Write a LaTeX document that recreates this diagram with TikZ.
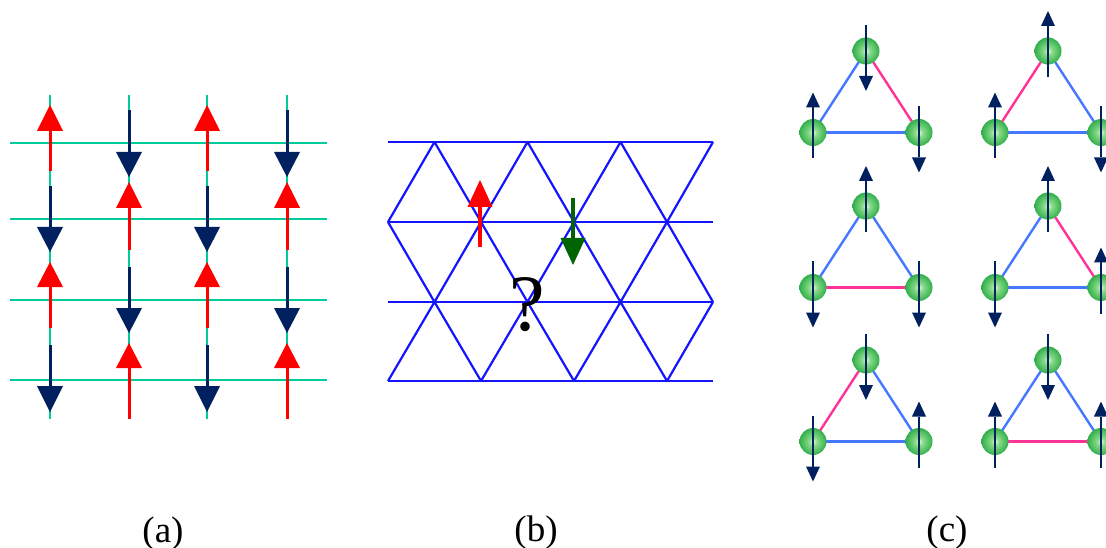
\documentclass[tikz,border=0pt]{standalone}
\usepackage{fontspec}
\setmainfont{Liberation Serif}
\definecolor{tealline}{RGB}{0,204,153}
\definecolor{navy}{RGB}{0,32,96}
\definecolor{latblue}{RGB}{20,20,255}
\definecolor{dgreen}{RGB}{0,100,0}
\definecolor{bondblue}{RGB}{70,120,255}
\definecolor{bondpink}{RGB}{255,50,150}
\definecolor{ballhi}{RGB}{228,250,228}
\definecolor{ballmid}{RGB}{140,220,140}
\definecolor{balledge}{RGB}{50,175,75}
\pgfdeclareradialshading{greenball}{\pgfpoint{0bp}{0bp}}{color(0bp)=(ballhi); color(7bp)=(ballmid); color(25bp)=(balledge); color(50bp)=(balledge)}
% spin arrow: x, tail y, head-base y, apex y, half width, colour, shaft width
\newcommand\spin[7]{%
  \draw[#6, line width=#7] ({#1},{#2}) -- ({#1},{#3});
  \fill[#6] ({#1},{#4}) -- ({#1-#5},{#3}) -- ({#1+#5},{#3}) -- cycle;
}
% spin in panel (c): x, centre y, direction (1 up, -1 down)
\newcommand\cspin[3]{\spin{#1}{#2+26*(#3)}{#2-25*(#3)}{#2-40*(#3)}{7}{navy}{2.6}}
\newcommand\ballat[2]{\shade[shading=greenball] ({#1},{#2}) circle[radius=13.5pt];}
% triangle: top x, top y, bond colours (T-BL, T-BR, BL-BR), spins (T, BL, BR)
\newcommand\tri[8]{%
  \coordinate (T) at ({#1},{#2});
  \coordinate (BL) at ({#1-53},{#2+81.5});
  \coordinate (BR) at ({#1+53},{#2+81.5});
  \draw[bond, #3] (T) -- (BL);
  \draw[bond, #4] (T) -- (BR);
  \draw[bond, #5] (BL) -- (BR);
  \ballat{#1}{#2}\ballat{#1-53}{#2+81.5}\ballat{#1+53}{#2+81.5}
  \cspin{#1}{#2}{#6}\cspin{#1-53}{#2+81.5}{#7}\cspin{#1+53}{#2+81.5}{#8}
}
\tikzset{
  grid/.style={tealline, line width=2.6pt},
  lattice/.style={latblue, line width=2.2pt, line join=round},
  bond/.style={line width=2.4pt},
  lab/.style={font=\fontsize{37}{37}\selectfont, inner sep=0pt, anchor=base},
}
\begin{document}
\begin{tikzpicture}[x=1pt, y=-1pt]
\useasboundingbox (0,0) rectangle (1106,548);
\clip (0,0) rectangle (1106,548);
% ---------- panel (a) ----------
\foreach \y in {143,219,300,380} \draw[grid] (10,\y) -- (327,\y);
\foreach \x in {50,129,207,287} \draw[grid] (\x,95) -- (\x,419);
\foreach \x in {50,207}{
  \spin{\x}{171}{131}{105}{13}{red}{3pt}
  \spin{\x}{186}{227}{252}{13}{navy}{3pt}
  \spin{\x}{328}{287}{262}{13}{red}{3pt}
  \spin{\x}{345}{386}{412}{13}{navy}{3pt}
}
\foreach \x in {129,287}{
  \spin{\x}{110}{152}{177}{13}{navy}{3pt}
  \spin{\x}{250}{208}{182}{13}{red}{3pt}
  \spin{\x}{267}{308}{333}{13}{navy}{3pt}
  \spin{\x}{419}{368}{343}{13}{red}{3pt}
}
% ---------- panel (b) ----------
\foreach \y in {142,222,302,381} \draw[lattice] (388,\y) -- (713,\y);
\draw[lattice] (388,222) -- (434.5,142) -- (481,222) -- (527.5,142) -- (574,222) -- (620.5,142) -- (667,222) -- (713,142);
\draw[lattice] (388,222) -- (434.5,302) -- (481,222) -- (527.5,302) -- (574,222) -- (620.5,302) -- (667,222) -- (713,302);
\draw[lattice] (388,381) -- (434.5,302) -- (481,381) -- (527.5,302) -- (574,381) -- (620.5,302) -- (667,381) -- (713,302);
\spin{480}{247}{207}{180}{12.5}{red}{4pt}
\spin{573}{198}{238}{265}{12.5}{dgreen}{4pt}
\node[font=\fontsize{80}{80}\selectfont, anchor=base, inner sep=0pt] (q) at (527,330) {?};
% ---------- panel (c) ----------
\tri{866}{51}{bondblue}{bondpink}{bondblue}{-1}{1}{-1}
\tri{1048}{51}{bondpink}{bondblue}{bondblue}{1}{1}{-1}
\tri{866}{206}{bondblue}{bondblue}{bondpink}{1}{-1}{-1}
\tri{1048}{206}{bondblue}{bondpink}{bondblue}{1}{-1}{1}
\tri{866}{360}{bondpink}{bondblue}{bondblue}{-1}{-1}{1}
\tri{1048}{360}{bondblue}{bondblue}{bondpink}{-1}{1}{1}
% ---------- labels ----------
\node[lab] (la) at (163,542) {(a)};
\node[lab] (lb) at (536,541) {(b)};
\node[lab] (lc) at (947,541) {(c)};
\end{tikzpicture}
\end{document}
